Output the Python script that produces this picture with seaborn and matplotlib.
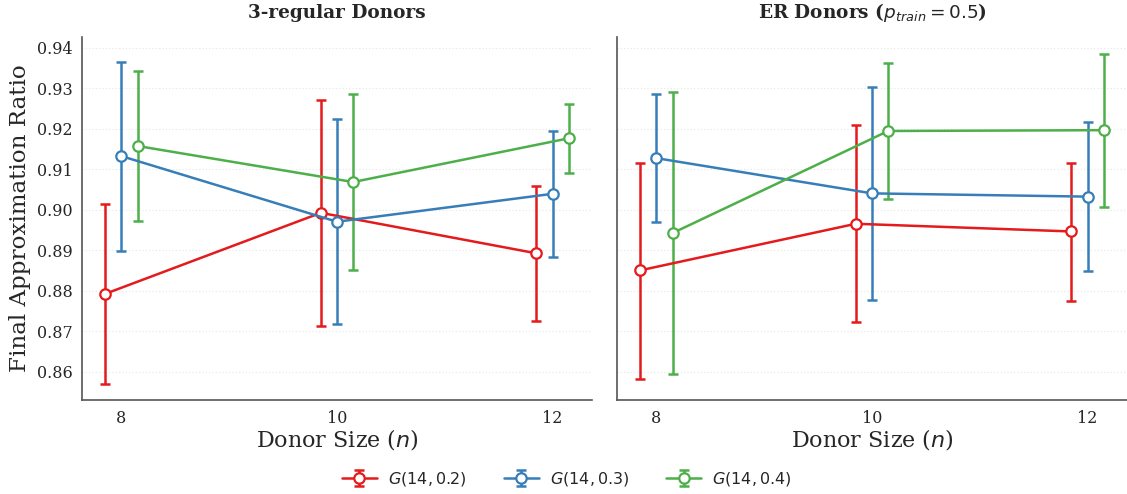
import numpy as np
import pandas as pd
import matplotlib
matplotlib.use("Agg")
import matplotlib.pyplot as plt
from matplotlib.legend_handler import HandlerTuple
import seaborn as sns

# ---------------- data ----------------
donor_sizes = [8, 10, 12]
series_labels = [r"$G(14, 0.2)$", r"$G(14, 0.3)$", r"$G(14, 0.4)$"]
panel_titles = [r"3-regular Donors", r"ER Donors ($p_{train} = 0.5$)"]

# 3-regular donors
reg_mean = {
    r"$G(14, 0.2)$": [0.8792, 0.8992, 0.8892],
    r"$G(14, 0.3)$": [0.9132, 0.8970, 0.9039],
    r"$G(14, 0.4)$": [0.9157, 0.9068, 0.9176],
}
reg_low = {
    r"$G(14, 0.2)$": [0.8569, 0.8712, 0.8726],
    r"$G(14, 0.3)$": [0.8899, 0.8718, 0.8884],
    r"$G(14, 0.4)$": [0.8973, 0.8851, 0.9090],
}
reg_high = {
    r"$G(14, 0.2)$": [0.9015, 0.9271, 0.9058],
    r"$G(14, 0.3)$": [0.9365, 0.9224, 0.9193],
    r"$G(14, 0.4)$": [0.9342, 0.9286, 0.9261],
}

# ER donors
er_mean = {
    r"$G(14, 0.2)$": [0.8850, 0.8965, 0.8946],
    r"$G(14, 0.3)$": [0.9127, 0.9040, 0.9032],
    r"$G(14, 0.4)$": [0.8942, 0.9194, 0.9196],
}
er_low = {
    r"$G(14, 0.2)$": [0.8583, 0.8722, 0.8774],
    r"$G(14, 0.3)$": [0.8969, 0.8777, 0.8849],
    r"$G(14, 0.4)$": [0.8595, 0.9025, 0.9007],
}
er_high = {
    r"$G(14, 0.2)$": [0.9115, 0.9209, 0.9115],
    r"$G(14, 0.3)$": [0.9285, 0.9303, 0.9215],
    r"$G(14, 0.4)$": [0.9290, 0.9363, 0.9385],
}

yticks = [0.86, 0.87, 0.88, 0.89, 0.90, 0.91, 0.92, 0.93, 0.94]

# ---------------- style ----------------
sns.set_theme(style="white")
plt.rcParams["font.family"] = ["DejaVu Serif"]
plt.rcParams["mathtext.fontset"] = "dejavusans"

colors = sns.color_palette("Set1", 3)
offsets = [-0.15, 0.0, 0.15]

fig = plt.figure(figsize=(11.27, 4.94), dpi=100)
ax1 = fig.add_axes([82 / 1127, 94 / 494, 510 / 1127, 363 / 494])
ax2 = fig.add_axes([617 / 1127, 94 / 494, 510 / 1127, 363 / 494], sharey=ax1)

panels = [(ax1, reg_mean, reg_low, reg_high), (ax2, er_mean, er_low, er_high)]

legend_handles = []
for pi, (ax, means, lows, highs) in enumerate(panels):
    for si, lab in enumerate(series_labels):
        c = colors[si]
        x = np.array(donor_sizes, dtype=float) + offsets[si]
        m = np.array(means[lab])
        lo = np.array(lows[lab])
        hi = np.array(highs[lab])
        eb = ax.errorbar(x, m, yerr=[m - lo, hi - m], fmt="none", ecolor=c,
                         elinewidth=1.8, capsize=3.5, capthick=1.8, zorder=2)
        df = pd.DataFrame({"x": x, "y": m})
        sns.lineplot(data=df, x="x", y="y", ax=ax, color=c, linewidth=1.8,
                     marker="o", markersize=7.5, markerfacecolor="white",
                     markeredgecolor=c, markeredgewidth=1.6, zorder=3)
        if pi == 0:
            legend_handles.append((eb, ax.lines[-1]))

    ax.set_xticks(donor_sizes)
    ax.set_xticklabels([str(v) for v in donor_sizes], fontsize=11.5)
    ax.set_yticks(yticks)
    ax.set_ylim(0.8530, 0.9426)
    ax.set_xlim(7.635, 12.365)
    ax.yaxis.grid(True, linestyle=(0, (1, 2)), color="#e6e6e6", linewidth=0.8)
    ax.xaxis.grid(False)
    for s in ["top", "right"]:
        ax.spines[s].set_visible(False)
    for s in ["left", "bottom"]:
        ax.spines[s].set_color("#555555")
        ax.spines[s].set_linewidth(1.2)
    ax.tick_params(axis="both", length=0, pad=7)
    ax.set_xlabel(r"Donor Size ($n$)", fontsize=16, labelpad=0)
    ax.set_title(panel_titles[pi], fontsize=13.3, fontweight="bold", pad=14)

ax1.set_ylabel("Final Approximation Ratio", fontsize=16.6, labelpad=4)
ax1.set_yticklabels([f"{v:.2f}" for v in yticks], fontsize=11.5)
ax2.set_ylabel("")
plt.setp(ax2.get_yticklabels(), visible=False)

fig.legend(legend_handles, series_labels, loc="center", bbox_to_anchor=(0.503, 0.03),
           ncol=3, frameon=False, fontsize=11.5, handlelength=2.2, handletextpad=0.7,
           columnspacing=2.3, handler_map={tuple: HandlerTuple(ndivide=1)})

fig.savefig("out.png", dpi=100)
